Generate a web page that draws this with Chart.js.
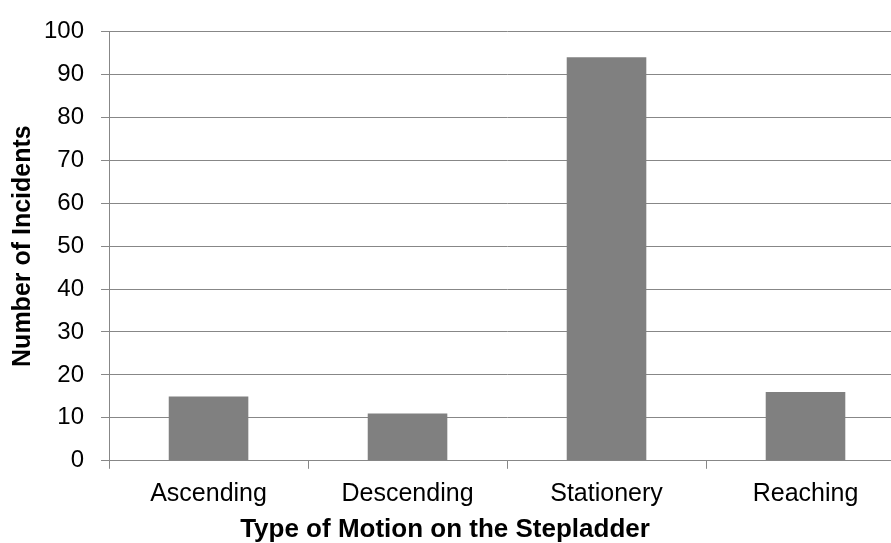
<!DOCTYPE html>
<html>
<head>
<meta charset="utf-8">
<script src="https://cdn.jsdelivr.net/npm/chart.js@4.4.1/dist/chart.umd.min.js"></script>
<style>
  html, body { margin: 0; padding: 0; background: #fff; overflow: hidden; }
  #wrap { position: relative; width: 891px; height: 543px; overflow: hidden; }
  /* canvas runs a little past both edges so the last category is clipped like the original */
  #chart { position: absolute; left: -15px; top: 0; }
</style>
</head>
<body>
<div id="wrap"><canvas id="chart" width="921" height="543"></canvas></div>
<script>
const categories = ['Ascending', 'Descending', 'Stationery', 'Reaching'];
const incidents = [15, 11, 94, 16];
const yMin = 0;
const yMax = 100;
const yStep = 10;

const gridColor = '#878787';
const textColor = '#000000';
const fontFamily = 'Arial, "Liberation Sans", sans-serif';

const ctx = document.getElementById('chart').getContext('2d');

new Chart(ctx, {
  type: 'bar',
  data: {
    labels: categories,
    datasets: [
      {
        label: 'Number of Incidents',
        data: incidents,
        backgroundColor: '#808080',
        borderWidth: 0,
        barPercentage: 0.4,
        categoryPercentage: 1.0,
      },
    ],
  },
  options: {
    responsive: false,
    animation: false,
    layout: {
      padding: { top: 19, right: 1, left: 0, bottom: -2 },
    },
    plugins: {
      legend: { display: false },
      tooltip: { enabled: false },
      title: {
        display: true,
        position: 'bottom',
        text: 'Type of Motion on the Stepladder',
        color: textColor,
        font: { family: fontFamily, size: 26, weight: 'bold' },
        padding: { top: -5, bottom: 0 },
      },
    },
    scales: {
      x: {
        grid: {
          offset: true,
          drawOnChartArea: false,
          drawTicks: true,
          tickLength: 8,
          color: gridColor,
        },
        border: { color: gridColor, width: 1 },
        ticks: {
          color: textColor,
          font: { family: fontFamily, size: 25 },
          padding: 10,
        },
      },
      y: {
        min: yMin,
        max: yMax,
        grid: {
          color: gridColor,
          tickLength: 8,
          lineWidth: 1,
        },
        border: { color: gridColor, width: 1 },
        ticks: {
          stepSize: yStep,
          color: textColor,
          font: { family: fontFamily, size: 24 },
          padding: 17,
        },
        title: {
          display: true,
          text: 'Number of Incidents',
          color: textColor,
          font: { family: fontFamily, size: 25, weight: 'bold' },
          padding: { top: 23, bottom: -11 },
        },
      },
    },
  },
});
</script>
</body>
</html>
